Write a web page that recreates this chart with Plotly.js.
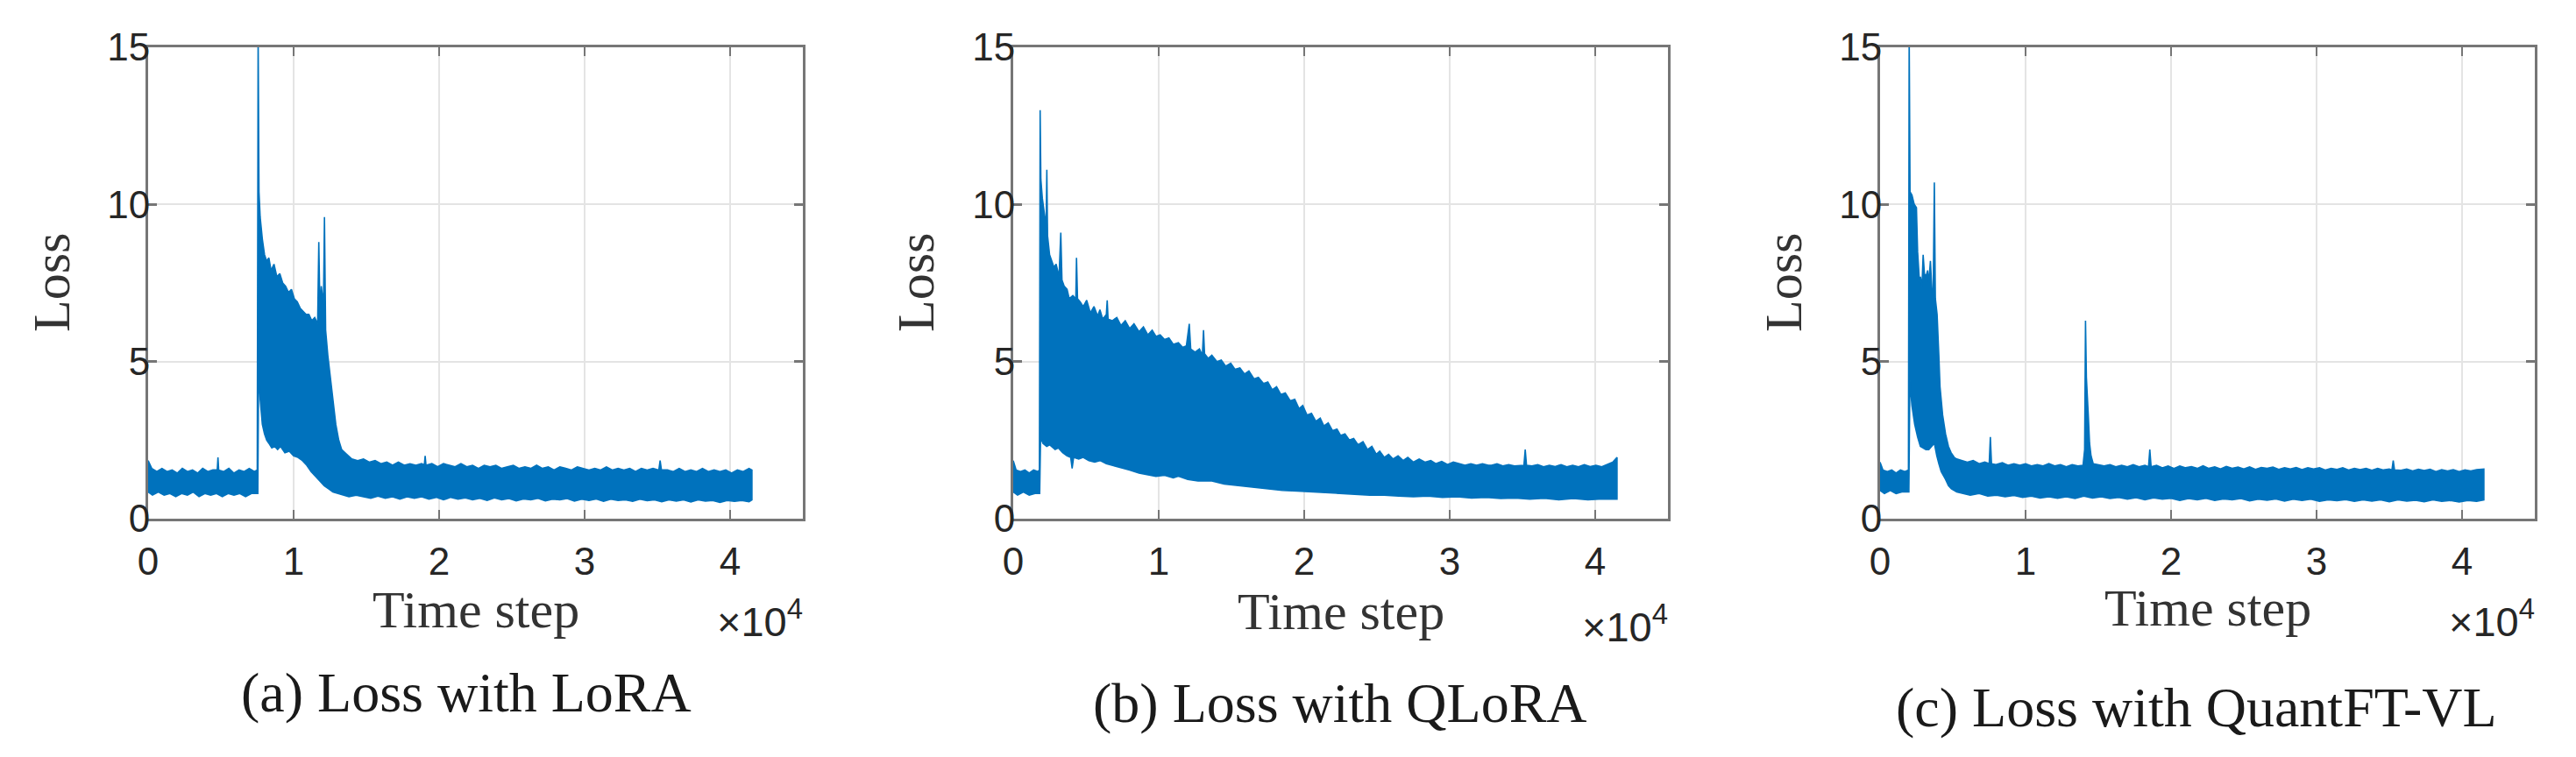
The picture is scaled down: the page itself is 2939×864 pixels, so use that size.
<!DOCTYPE html>
<html>
<head>
<meta charset="utf-8">
<script src="https://cdn.plot.ly/plotly-3.0.1.min.js"></script>
<style>
  html, body { margin: 0; padding: 0; background: #fff; }
  #chart { width: 2939px; height: 864px; }
</style>
</head>
<body>
<div id="chart"></div>
<script>
// tick labels (x is shown in units of 1e4 steps)
const xTickVals = [0, 10000, 20000, 30000, 40000];
const xTickText = ["0", "1", "2", "3", "4"];
const yTickVals = [0, 5, 10, 15];
const captions = ["(a) Loss with LoRA", "(b) Loss with QLoRA", "(c) Loss with QuantFT-VL"];

// (a) LoRA : upper / lower edge of the noisy loss band
const loraUpperStep = [
  0, 250, 600, 950, 1300, 1650, 2000, 2350, 2700, 3050,
  3400, 3750, 4100, 4450, 4750, 4800, 4850, 5200, 5550, 5900,
  6250, 6600, 6950, 7300, 7500, 7560, 7620, 7700, 7850, 8000,
  8150, 8300, 8450, 8650, 8850, 9050, 9250, 9450, 9650, 9850,
  10050, 10250, 10450, 10650, 10850, 11050, 11250, 11450, 11650, 11730,
  11810, 11900, 12050, 12120, 12200, 12350, 12500, 12700, 12900, 13100,
  13300, 13650, 14000, 14400, 14800, 15200, 15600, 16000, 16400, 16800,
  17200, 17600, 18000, 18400, 18800, 18980, 19040, 19100, 19500, 19900,
  20300, 20700, 21100, 21500, 21900, 22300, 22700, 23100, 23500, 23900,
  24300, 24700, 25100, 25500, 25900, 26300, 26700, 27100, 27500, 27900,
  28300, 28700, 29100, 29500, 29900, 30300, 30700, 31100, 31500, 31900,
  32300, 32700, 33100, 33500, 33900, 34300, 34700, 35100, 35190, 35280,
  35700, 36100, 36500, 36900, 37300, 37700, 38100, 38500, 38900, 39300,
  39700, 40100, 40500, 40900, 41300, 41500
];
const loraUpperLoss = [
  1.85, 1.6, 1.5, 1.6, 1.5, 1.55, 1.45, 1.6, 1.5, 1.55,
  1.45, 1.6, 1.5, 1.55, 1.55, 1.95, 1.55, 1.5, 1.6, 1.45,
  1.55, 1.5, 1.6, 1.5, 1.55, 15.5, 10.4, 9.6, 8.9, 8.4,
  8.2, 8.3, 7.9, 8.1, 7.7, 7.8, 7.5, 7.4, 7.2, 7.3,
  7.0, 6.9, 6.7, 6.6, 6.5, 6.5, 6.3, 6.4, 6.2, 8.8,
  6.6, 7.4, 6.8, 9.6, 6.0, 5.2, 4.6, 3.7, 3.0, 2.5,
  2.2, 2.05, 1.9, 1.85, 1.9, 1.8, 1.85, 1.75, 1.8, 1.7,
  1.8, 1.7, 1.75, 1.7, 1.75, 1.7, 2.0, 1.7, 1.75, 1.65,
  1.75, 1.7, 1.65, 1.75, 1.65, 1.7, 1.6, 1.7, 1.65, 1.7,
  1.6, 1.65, 1.7, 1.6, 1.65, 1.6, 1.7, 1.6, 1.65, 1.55,
  1.65, 1.6, 1.55, 1.65, 1.6, 1.55, 1.6, 1.55, 1.65, 1.55,
  1.6, 1.55, 1.6, 1.5, 1.6, 1.55, 1.6, 1.55, 1.85, 1.55,
  1.55, 1.5, 1.6, 1.5, 1.55, 1.5, 1.6, 1.5, 1.55, 1.5,
  1.55, 1.45, 1.55, 1.5, 1.6, 1.55
];
const loraLowerStep = [
  0, 300, 700, 1100, 1500, 1900, 2300, 2700, 3100, 3500,
  3900, 4300, 4700, 5100, 5500, 5900, 6300, 6700, 7100, 7540,
  7600, 7700, 7850, 8000, 8150, 8300, 8500, 8700, 8900, 9100,
  9400, 9700, 10000, 10300, 10600, 10900, 11200, 11500, 11800, 12100,
  12400, 12700, 13000, 13400, 13800, 14300, 14800, 15300, 15800, 16300,
  16800, 17300, 17800, 18300, 18800, 19300, 19800, 20300, 20800, 21300,
  21800, 22300, 22800, 23300, 23800, 24300, 24800, 25300, 25800, 26300,
  26800, 27300, 27800, 28300, 28800, 29300, 29800, 30300, 30800, 31300,
  31800, 32300, 32800, 33300, 33800, 34300, 34800, 35300, 35800, 36300,
  36800, 37300, 37800, 38300, 38800, 39300, 39800, 40300, 40800, 41300,
  41500
];
const loraLowerLoss = [
  0.85, 0.75, 0.85, 0.75, 0.8, 0.7, 0.8, 0.75, 0.85, 0.7,
  0.8, 0.75, 0.8, 0.7, 0.8, 0.75, 0.8, 0.7, 0.8, 0.8,
  5.0, 3.8, 3.0, 2.7, 2.5, 2.4, 2.25, 2.3, 2.2, 2.3,
  2.1, 2.15, 2.0, 1.95, 1.85, 1.7, 1.5, 1.35, 1.2, 1.05,
  0.95, 0.85, 0.8, 0.75, 0.7, 0.75, 0.7, 0.65, 0.72, 0.65,
  0.7, 0.62, 0.7, 0.65, 0.7, 0.62, 0.68, 0.6, 0.68, 0.62,
  0.66, 0.6, 0.65, 0.58, 0.66, 0.6, 0.64, 0.57, 0.63, 0.6,
  0.65, 0.57, 0.62, 0.6, 0.64, 0.56, 0.62, 0.58, 0.63, 0.55,
  0.62, 0.58, 0.6, 0.55, 0.62, 0.57, 0.6, 0.54, 0.6, 0.56,
  0.6, 0.53, 0.6, 0.56, 0.58, 0.52, 0.58, 0.55, 0.58, 0.54,
  0.6
];

// (b) QLoRA
const qloraUpperStep = [
  0, 200, 500, 800, 1100, 1400, 1700, 1800, 1850, 1900,
  2000, 2100, 2200, 2260, 2310, 2360, 2500, 2650, 2800, 2950,
  3150, 3270, 3350, 3500, 3700, 3850, 4100, 4300, 4350, 4420,
  4600, 4810, 5050, 5300, 5550, 5800, 5960, 6150, 6400, 6460,
  6520, 6800, 7120, 7400, 7700, 8000, 8300, 8650, 8950, 9250,
  9550, 9810, 10100, 10400, 10700, 11000, 11350, 11650, 11900, 12100,
  12200, 12500, 12800, 13000, 13080, 13150, 13400, 13650, 14000, 14300,
  14600, 14950, 15250, 15580, 15900, 16200, 16550, 16850, 17200, 17500,
  17800, 18100, 18400, 18700, 19040, 19350, 19650, 19900, 20190, 20500,
  20800, 21100, 21350, 21650, 21950, 22250, 22500, 22800, 23100, 23400,
  23700, 24040, 24350, 24650, 24950, 25190, 25500, 25800, 26100, 26450,
  26800, 27120, 27500, 27900, 28300, 28700, 29040, 29450, 29850, 30250,
  30650, 31050, 31450, 31850, 32250, 32650, 32880, 33250, 33650, 34050,
  34450, 34850, 35100, 35190, 35280, 35650, 36050, 36450, 36850, 37250,
  37650, 38050, 38450, 38850, 39250, 39650, 40050, 40450, 40850, 41200,
  41500
];
const qloraUpperLoss = [
  1.85, 1.55, 1.5, 1.55, 1.45, 1.55, 1.5, 1.55, 13.0, 10.8,
  10.2, 9.9, 9.6, 9.3, 11.1, 9.0, 8.4, 8.2, 8.0, 8.1,
  7.7, 9.1, 7.6, 7.4, 7.3, 7.0, 7.1, 7.0, 8.3, 7.0,
  6.9, 6.75, 6.95, 6.55, 6.75, 6.45, 6.65, 6.35, 6.5, 6.95,
  6.35, 6.3, 6.4, 6.15, 6.3, 6.05, 6.2, 5.95, 6.1, 5.85,
  6.0, 5.8, 5.85, 5.7, 5.75, 5.55, 5.6, 5.45, 5.5, 6.2,
  5.4, 5.3, 5.4, 5.2, 6.0, 5.25, 5.1, 5.2, 5.0, 5.05,
  4.85, 4.95, 4.75, 4.8, 4.6, 4.7, 4.45, 4.5, 4.3, 4.35,
  4.1, 4.2, 3.95, 4.0, 3.75, 3.8, 3.5, 3.6, 3.3, 3.35,
  3.1, 3.2, 2.95, 3.05, 2.8, 2.85, 2.65, 2.7, 2.5, 2.55,
  2.35, 2.45, 2.2, 2.3, 2.05, 2.15, 1.95, 2.05, 1.9, 2.0,
  1.85, 1.95, 1.8, 1.9, 1.8, 1.85, 1.75, 1.82, 1.72, 1.8,
  1.75, 1.7, 1.75, 1.7, 1.75, 1.7, 1.7, 1.75, 1.68, 1.72,
  1.68, 1.7, 1.7, 2.2, 1.7, 1.68, 1.72, 1.65, 1.7, 1.66,
  1.72, 1.65, 1.7, 1.65, 1.72, 1.66, 1.7, 1.65, 1.72, 1.8,
  1.95
];
const qloraLowerStep = [
  0, 300, 700, 1100, 1500, 1820, 1880, 2040, 2300, 2500,
  2880, 3100, 3400, 3700, 3950, 4050, 4150, 4500, 4810, 5200,
  5600, 5960, 6400, 6800, 7200, 7600, 8000, 8650, 9200, 9810,
  10400, 11000, 11350, 12000, 12700, 13650, 14500, 15580, 16500, 17500,
  18500, 19500, 20500, 21500, 22500, 23500, 24500, 25500, 26500, 27500,
  28500, 29500, 30500, 31500, 32500, 33500, 34500, 35500, 36500, 37500,
  38500, 39500, 40500, 41500
];
const qloraLowerLoss = [
  0.85, 0.75, 0.85, 0.75, 0.8, 0.8, 2.6, 2.4, 2.3, 2.35,
  2.2, 2.25, 2.1, 2.0, 1.95, 1.6, 1.95, 1.9, 1.95, 1.85,
  1.8, 1.85, 1.75, 1.7, 1.65, 1.6, 1.55, 1.45, 1.4, 1.35,
  1.38, 1.3, 1.35, 1.25, 1.2, 1.2, 1.1, 1.05, 1.0, 0.95,
  0.9, 0.88, 0.85, 0.82, 0.8, 0.78, 0.75, 0.75, 0.72, 0.7,
  0.72, 0.68, 0.7, 0.66, 0.68, 0.64, 0.66, 0.62, 0.65, 0.6,
  0.64, 0.6, 0.63, 0.62
];

// (c) QuantFT-VL
const quantUpperStep = [
  0, 200, 500, 800, 1100, 1400, 1700, 1950, 2000, 2060,
  2190, 2350, 2500, 2580, 2700, 2770, 2880, 2960, 3050, 3150,
  3270, 3350, 3460, 3560, 3650, 3730, 3800, 3920, 4040, 4120,
  4300, 4500, 4700, 4880, 5100, 5270, 5650, 6000, 6400, 6810,
  7200, 7500, 7580, 7660, 7960, 8400, 8800, 9200, 9600, 10000,
  10400, 10800, 11200, 11600, 12000, 12400, 12800, 13200, 13600, 13950,
  14060, 14120, 14180, 14250, 14310, 14400, 14500, 14650, 15000, 15400,
  15800, 16200, 16600, 17000, 17400, 17800, 18200, 18450, 18540, 18630,
  19000, 19400, 19800, 20200, 20600, 21000, 21400, 21800, 22200, 22600,
  23000, 23400, 23800, 24200, 24600, 25000, 25400, 25800, 26200, 26600,
  27000, 27400, 27800, 28200, 28600, 29000, 29400, 29800, 30200, 30600,
  31000, 31400, 31800, 32200, 32600, 33000, 33400, 33800, 34200, 34600,
  35000, 35180, 35270, 35360, 35800, 36200, 36600, 37000, 37400, 37800,
  38200, 38600, 39000, 39400, 39800, 40200, 40600, 41000, 41500
];
const quantUpperLoss = [
  1.8, 1.55, 1.5, 1.55, 1.45, 1.55, 1.5, 1.55, 15.5, 10.4,
  10.3, 10.0, 9.9, 8.5, 7.6, 7.7, 7.4, 8.4, 7.8, 7.7,
  7.9, 7.5, 8.2, 7.3, 7.1, 10.7, 7.0, 6.5, 5.2, 4.2,
  3.3, 2.7, 2.3, 2.1, 1.95, 1.9, 1.85, 1.8, 1.85, 1.75,
  1.8, 1.75, 2.6, 1.75, 1.72, 1.78, 1.7, 1.75, 1.7, 1.75,
  1.68, 1.72, 1.68, 1.75, 1.68, 1.72, 1.65, 1.72, 1.68, 1.7,
  2.2, 6.3, 4.5, 3.6, 3.3, 2.4, 2.0, 1.75, 1.72, 1.68,
  1.72, 1.65, 1.7, 1.65, 1.72, 1.65, 1.7, 1.65, 2.2, 1.65,
  1.7, 1.62, 1.68, 1.6, 1.68, 1.62, 1.66, 1.6, 1.68, 1.6,
  1.65, 1.58, 1.66, 1.6, 1.64, 1.58, 1.65, 1.57, 1.63, 1.6,
  1.64, 1.57, 1.62, 1.58, 1.63, 1.56, 1.62, 1.58, 1.62, 1.55,
  1.6, 1.57, 1.62, 1.55, 1.6, 1.56, 1.6, 1.54, 1.6, 1.55,
  1.58, 1.55, 1.85, 1.55, 1.54, 1.58, 1.52, 1.57, 1.53, 1.57,
  1.5, 1.56, 1.52, 1.56, 1.5, 1.55, 1.52, 1.56, 1.58
];
const quantLowerStep = [
  0, 300, 700, 1100, 1500, 1980, 2050, 2190, 2380, 2580,
  2770, 2960, 3150, 3350, 3550, 3730, 3900, 4040, 4200, 4500,
  4700, 4900, 5270, 5700, 6200, 6810, 7400, 8000, 8600, 9200,
  9800, 10400, 11000, 11600, 12200, 12800, 13400, 14000, 14600, 15200,
  15800, 16400, 17000, 17600, 18200, 18800, 19400, 20000, 20600, 21200,
  21800, 22400, 23000, 23600, 24200, 24800, 25400, 26000, 26600, 27200,
  27800, 28400, 29000, 29600, 30200, 30800, 31400, 32000, 32600, 33200,
  33800, 34400, 35000, 35600, 36200, 36800, 37400, 38000, 38600, 39200,
  39800, 40400, 41000, 41500
];
const quantLowerLoss = [
  0.9, 0.8, 0.9, 0.8, 0.85, 0.85, 4.4, 3.6, 3.0, 2.6,
  2.3, 2.25, 2.2, 2.2, 2.3, 2.4, 2.0, 1.75, 1.5, 1.25,
  1.05, 0.95, 0.85, 0.8, 0.75, 0.8, 0.72, 0.75, 0.7, 0.74,
  0.68, 0.72, 0.66, 0.7, 0.65, 0.7, 0.64, 0.72, 0.66, 0.7,
  0.64, 0.68, 0.62, 0.67, 0.6, 0.66, 0.62, 0.65, 0.58, 0.64,
  0.6, 0.65, 0.58, 0.63, 0.6, 0.64, 0.57, 0.62, 0.59, 0.63,
  0.56, 0.62, 0.58, 0.62, 0.55, 0.6, 0.57, 0.61, 0.55, 0.6,
  0.56, 0.6, 0.54, 0.6, 0.56, 0.59, 0.54, 0.6, 0.55, 0.58,
  0.53, 0.58, 0.55, 0.6
];

const W = 2939, H = 864;
const BLUE = "#0072BD";
const SERIF = "Liberation Serif, Times New Roman, serif";
const SANS = "Liberation Sans, Arial, sans-serif";

// plot box of each panel, in pixels
const boxes = [
  { l: 169, r: 916 },
  { l: 1156, r: 1903 },
  { l: 2145, r: 2892 },
];
const boxTop = 54, boxBottom = 592;

const px = (x) => x / W;
const py = (y) => 1 - y / H;

const bands = [
  [loraLowerStep, loraLowerLoss, loraUpperStep, loraUpperLoss],
  [qloraLowerStep, qloraLowerLoss, qloraUpperStep, qloraUpperLoss],
  [quantLowerStep, quantLowerLoss, quantUpperStep, quantUpperLoss],
];

// each band is one closed outline: upper edge left->right, lower edge back
const traces = bands.map((b, i) => {
  const sfx = i === 0 ? "" : String(i + 1);
  return {
    x: b[2].concat(b[0].slice().reverse()),
    y: b[3].concat(b[1].slice().reverse()),
    xaxis: "x" + sfx, yaxis: "y" + sfx,
    type: "scatter", mode: "lines",
    fill: "toself", fillcolor: BLUE,
    line: { color: BLUE, width: 1.6 },
    hoverinfo: "skip",
  };
});

const axisCommon = {
  showgrid: true,
  gridcolor: "#e4e4e4",
  gridwidth: 2,
  zeroline: false,
  showline: true,
  linecolor: "#767676",
  linewidth: 3,
  mirror: "ticks",
  ticks: "inside",
  ticklen: 10,
  tickwidth: 2.5,
  tickcolor: "#767676",
  tickfont: { family: SANS, size: 44, color: "#262626" },
  fixedrange: true,
};

const layout = {
  width: W,
  height: H,
  margin: { l: 0, r: 0, t: 0, b: 0 },
  paper_bgcolor: "#ffffff",
  plot_bgcolor: "#ffffff",
  showlegend: false,
  annotations: [],
};

boxes.forEach((bx, i) => {
  const sfx = i === 0 ? "" : String(i + 1);
  layout["xaxis" + sfx] = Object.assign({}, axisCommon, {
    domain: [px(bx.l), px(bx.r)],
    range: [0, 45000],
    tickvals: xTickVals,
    ticktext: xTickText,
    ticklabelstandoff: 8,
    anchor: "y" + sfx,
  });
  layout["yaxis" + sfx] = Object.assign({}, axisCommon, {
    domain: [py(boxBottom), py(boxTop)],
    range: [0, 15],
    tickvals: yTickVals,
    ticklabelstandoff: -14,
    anchor: "x" + sfx,
  });
});

// text placement (pixels)
const lossLabelX = [59, 1045, 2035];
const timeStepY = [696, 698, 694];
const expY = [706, 712, 706];
const captionX = [532, 1529, 2506];
const captionY = [790, 802, 807];

boxes.forEach((bx, i) => {
  const mid = (bx.l + bx.r) / 2;
  layout.annotations.push({
    xref: "paper", yref: "paper",
    x: px(lossLabelX[i]), y: py((boxTop + boxBottom) / 2),
    xanchor: "center", yanchor: "middle",
    text: "Loss", textangle: -90, showarrow: false,
    font: { family: SERIF, size: 60, color: "#333333" },
  });
  layout.annotations.push({
    xref: "paper", yref: "paper",
    x: px(mid), y: py(timeStepY[i]),
    xanchor: "center", yanchor: "middle",
    text: "Time step", showarrow: false,
    font: { family: SERIF, size: 60, color: "#333333" },
  });
  layout.annotations.push({
    xref: "paper", yref: "paper",
    x: px(bx.r + 2), y: py(expY[i]),
    xanchor: "right", yanchor: "middle",
    text: "×10<sup>4</sup>", showarrow: false,
    font: { family: SANS, size: 47, color: "#262626" },
  });
  layout.annotations.push({
    xref: "paper", yref: "paper",
    x: px(captionX[i]), y: py(captionY[i]),
    xanchor: "center", yanchor: "middle",
    text: captions[i], showarrow: false,
    font: { family: SERIF, size: 64, color: "#1a1a1a" },
  });
});

Plotly.newPlot("chart", traces, layout, { staticPlot: true, displayModeBar: false });
</script>
</body>
</html>
